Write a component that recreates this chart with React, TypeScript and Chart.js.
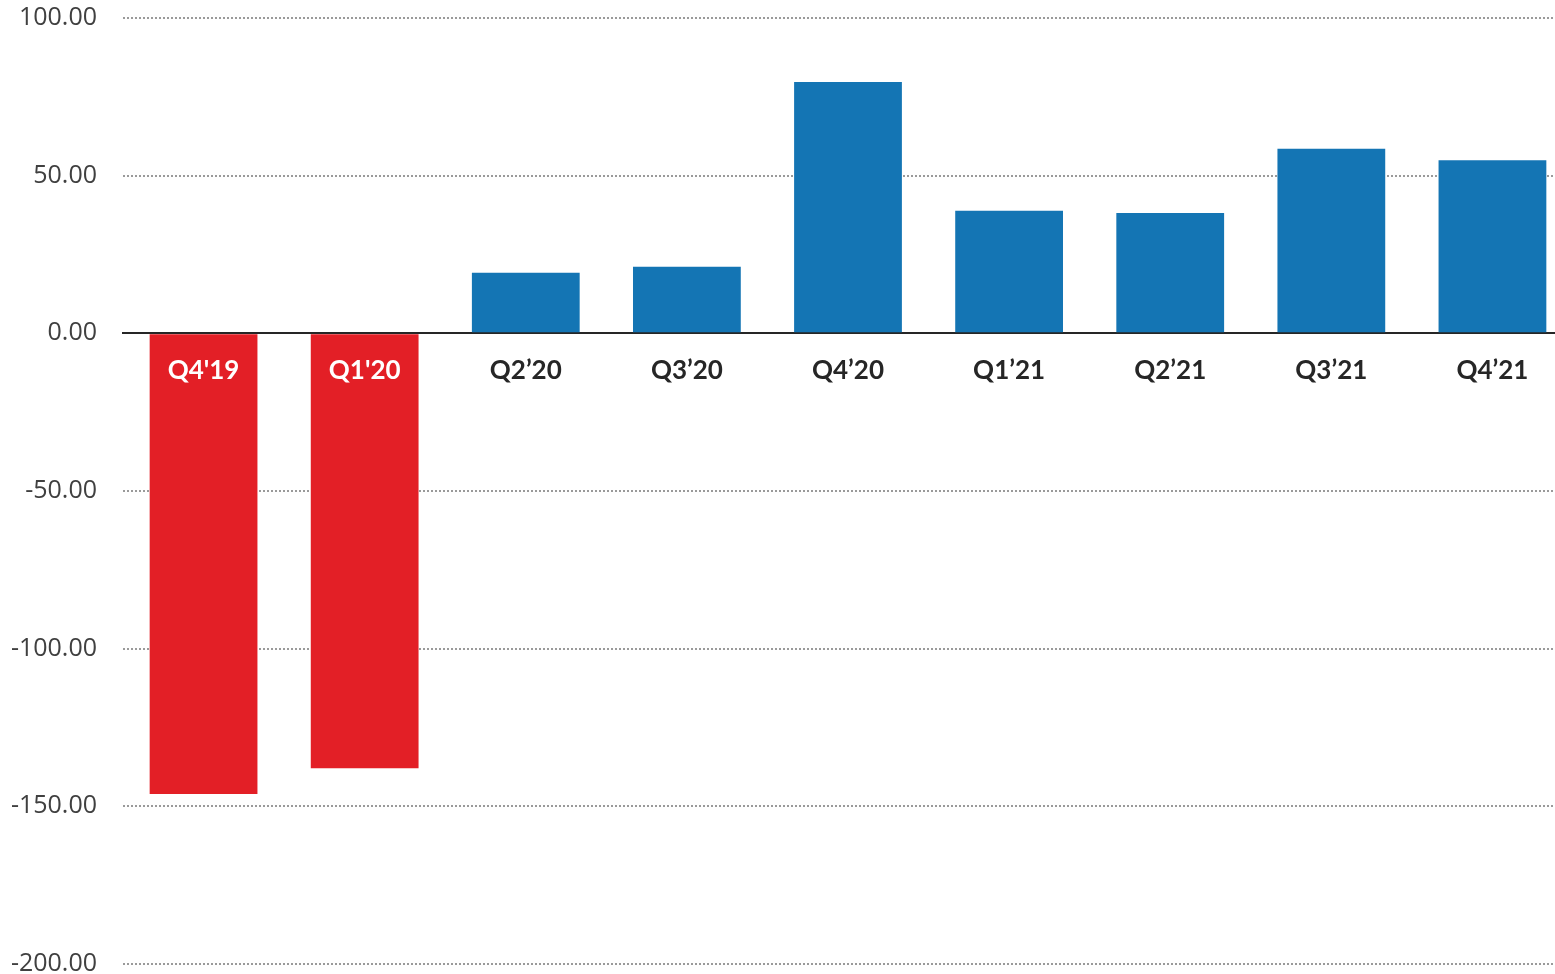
import React, { useEffect, useRef } from "react";
import { Chart, registerables } from "chart.js";

Chart.register(...registerables);

const categories = ["Q4'19", "Q1'20", "Q2’20", "Q3’20", "Q4’20", "Q1’21", "Q2’21", "Q3’21", "Q4’21"];
const values = [-146.1, -137.9, 19.2, 21.1, 79.7, 38.9, 38.2, 58.5, 54.9];
const yTicks = [100, 50, 0, -50, -100, -150, -200];

const RED = "#E31F26";
const BLUE = "#1475B4";

export default function App() {
  const ref = useRef<HTMLCanvasElement | null>(null);

  useEffect(() => {
    document.body.style.margin = "0";
    document.documentElement.style.overflow = "hidden";
    document.body.style.overflow = "hidden";
    if (!ref.current) return;
    const chart = new Chart(ref.current, {
      type: "bar",
      data: {
        labels: categories,
        datasets: [
          {
            data: values,
            backgroundColor: values.map((v) => (v < 0 ? RED : BLUE)),
            borderWidth: 0,
            categoryPercentage: 1,
            barPercentage: 0.669,
          },
        ],
      },
      options: {
        animation: false,
        responsive: true,
        maintainAspectRatio: false,
        layout: { padding: { top: 3, right: 0, bottom: 0, left: 0 } },
        plugins: { legend: { display: false }, tooltip: { enabled: false } },
        scales: {
          x: {
            position: { y: 0 },
            offset: true,
            grid: { display: false, drawTicks: false },
            border: { display: true, color: "#262626", width: 2 },
            ticks: {
              z: 1,
              padding: 22,
              autoSkip: false,
              maxRotation: 0,
              font: { family: "Lato", weight: "bold", size: 26 },
              color: (ctx: any) => (ctx.index < 2 ? "#FFFFFF" : "#262626"),
            },
          },
          y: {
            min: -200,
            max: 100,
            afterBuildTicks: (s: any) => {
              s.ticks = yTicks.map((v) => ({ value: v }));
            },
            afterFit: (s: any) => {
              s.width = 123;
            },
            grid: { color: "#9A9A9A", lineWidth: 2, drawTicks: false },
            border: { display: false, dash: [2, 2] },
            ticks: {
              padding: 26,
              font: { family: "Open Sans", size: 25 },
              color: "#404040",
              callback: (v: any) => Number(v).toFixed(2),
            },
          },
        },
      },
    });
    return () => chart.destroy();
  }, []);

  return (
    <div style={{ position: "relative", width: "1573px", height: "1028px", marginTop: "-23px" }}>
      <canvas ref={ref} />
    </div>
  );
}
